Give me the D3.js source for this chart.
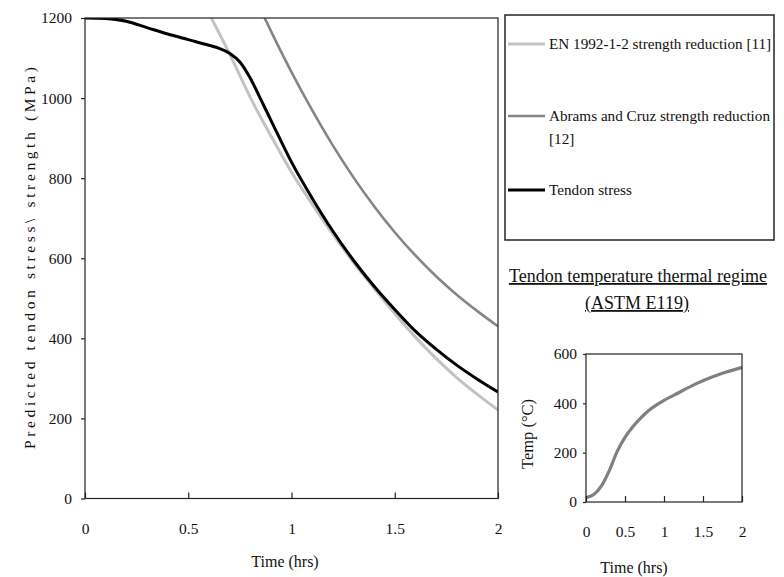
<!DOCTYPE html>
<html><head><meta charset="utf-8">
<script src="https://cdn.jsdelivr.net/npm/d3@7/dist/d3.min.js"></script>
<style>
html,body{margin:0;padding:0;background:#fff;}
text{font-family:"Liberation Serif","Times New Roman",serif;fill:#111;}
</style></head>
<body><svg id="c" width="784" height="577"></svg>
<script>
// ---- data ----
const enTime     = [0.6, 0.71, 0.81, 0.9, 1.0, 1.1, 1.2, 1.3, 1.4, 1.5, 1.6, 1.7, 1.8, 1.9, 2.0];
const enValues   = [1212, 1100, 992, 906, 815, 735, 660, 590, 525, 462, 403, 350, 302, 260, 221];
const abTime     = [0.86, 0.9, 1.0, 1.1, 1.2, 1.3, 1.4, 1.5, 1.6, 1.7, 1.8, 1.9, 2.0];
const abValues   = [1211, 1168, 1065, 970, 882, 802, 730, 665, 607, 555, 509, 468, 430];
const tsTime     = [0, 0.1, 0.2, 0.3, 0.4, 0.5, 0.6, 0.65, 0.7, 0.75, 0.8, 0.85, 0.9, 1.0, 1.1, 1.2, 1.3, 1.4, 1.5, 1.6, 1.7, 1.8, 1.9, 2.0];
const tsValues   = [1200, 1199, 1192, 1176, 1160, 1146, 1132, 1124, 1112, 1090, 1050, 998, 945, 840, 750, 668, 595, 530, 472, 418, 373, 333, 298, 266];
const tempTime   = [0, 0.1, 0.2, 0.3, 0.4, 0.5, 0.6, 0.7, 0.8, 0.9, 1.0, 1.2, 1.4, 1.6, 1.8, 2.0];
const tempValues = [18, 30, 66, 128, 205, 262, 305, 340, 370, 393, 412, 445, 478, 505, 527, 546];
const mainXTicks = [0, 0.5, 1, 1.5, 2];
const mainYTicks = [0, 200, 400, 600, 800, 1000, 1200];
const insetXTicks = [0, 0.5, 1, 1.5, 2];
const insetYTicks = [0, 200, 400, 600];
const legendLabels = [["EN 1992-1-2 strength reduction [11]"], ["Abrams and Cruz strength reduction", "[12]"], ["Tendon stress"]];

const svg = d3.select("#c");
const zip = (a,b)=>a.map((t,i)=>[t,b[i]]);
const SERIF = "'Liberation Serif','Times New Roman',serif";

// ---- main chart ----
const x = d3.scaleLinear().domain([0,2]).range([85,498]);
const y = d3.scaleLinear().domain([0,1200]).range([498.5,18]);

svg.append("clipPath").attr("id","clipMain").append("rect")
  .attr("x",85).attr("y",18).attr("width",413).attr("height",480.5);

const line = d3.line().x(d=>x(d[0])).y(d=>y(d[1])).curve(d3.curveMonotoneX);
const series = [
  {d: zip(enTime,enValues), c:"#c3c3c3", w:3},
  {d: zip(abTime,abValues), c:"#858585", w:2.6},
  {d: zip(tsTime,tsValues), c:"#000", w:3}
];
const gLines = svg.append("g").attr("clip-path","url(#clipMain)");
series.forEach(s=>{
  gLines.append("path").attr("d", line(s.d)).attr("fill","none")
    .attr("stroke", s.c).attr("stroke-width", s.w).attr("stroke-linejoin","round");
});

// frame
svg.append("rect").attr("x",85).attr("y",18).attr("width",413).attr("height",480.5)
  .attr("fill","none").attr("stroke","#222").attr("stroke-width",1.2);

const gx = svg.append("g").attr("transform","translate(0,498.5)")
  .call(d3.axisBottom(x).tickValues(mainXTicks).tickSize(-6).tickPadding(24).tickFormat(d3.format("")));
const gy = svg.append("g").attr("transform","translate(85,0)")
  .call(d3.axisLeft(y).tickValues(mainYTicks).tickSize(4).tickPadding(9).tickFormat(d3.format("d")));
[gx,gy].forEach(g=>{
  g.attr("font-family", SERIF);
  g.select(".domain").remove();
  g.selectAll("line").attr("stroke","#222").attr("stroke-width",1.2);
  g.selectAll("text").style("font-size","15.5px").attr("fill","#111");
});

svg.append("text").attr("x",285).attr("y",567).attr("text-anchor","middle")
  .style("font-size","16px").text("Time (hrs)");
svg.append("text").attr("transform","translate(35,258) rotate(-90)").attr("text-anchor","middle")
  .attr("textLength",382).attr("lengthAdjust","spacing")
  .style("font-size","15.5px").text("Predicted tendon stress\\ strength  (MPa)");

// ---- legend ----
svg.append("rect").attr("x",505).attr("y",15).attr("width",269).attr("height",225)
  .attr("fill","#fff").attr("stroke","#333").attr("stroke-width",1.6);
const legY = [44, 116, 190];
series.forEach((s,i)=>{
  svg.append("line").attr("x1",508).attr("x2",545).attr("y1",legY[i]).attr("y2",legY[i])
    .attr("stroke",s.c).attr("stroke-width",s.w);
  legendLabels[i].forEach((t,j)=>{
    svg.append("text").attr("x",549).attr("y",legY[i]+5+j*23)
      .style("font-size","15.2px").text(t);
  });
});

// ---- inset ----
svg.append("text").attr("x",638).attr("y",282).attr("text-anchor","middle")
  .style("font-size","18px").style("text-decoration","underline").text("Tendon temperature thermal regime");
svg.append("text").attr("x",637).attr("y",309).attr("text-anchor","middle")
  .style("font-size","18px").style("text-decoration","underline").text("(ASTM E119)");

const xi = d3.scaleLinear().domain([0,2]).range([586,742]);
const yi = d3.scaleLinear().domain([0,600]).range([502,354]);
const lineI = d3.line().x(d=>xi(d[0])).y(d=>yi(d[1])).curve(d3.curveMonotoneX);
svg.append("path").attr("d", lineI(zip(tempTime,tempValues))).attr("fill","none")
  .attr("stroke","#808080").attr("stroke-width",3.2);
svg.append("rect").attr("x",586).attr("y",354).attr("width",156).attr("height",148)
  .attr("fill","none").attr("stroke","#222").attr("stroke-width",1.2);
const gxi = svg.append("g").attr("transform","translate(0,502)")
  .call(d3.axisBottom(xi).tickValues(insetXTicks).tickSize(-6).tickPadding(24).tickFormat(d3.format("")));
const gyi = svg.append("g").attr("transform","translate(586,0)")
  .call(d3.axisLeft(yi).tickValues(insetYTicks).tickSize(3).tickPadding(6));
[gxi,gyi].forEach(g=>{
  g.attr("font-family", SERIF);
  g.select(".domain").remove();
  g.selectAll("line").attr("stroke","#222").attr("stroke-width",1.2);
  g.selectAll("text").style("font-size","15.5px").attr("fill","#111");
});
svg.append("text").attr("x",634).attr("y",573).attr("text-anchor","middle")
  .style("font-size","16px").text("Time (hrs)");
svg.append("text").attr("transform","translate(533,434) rotate(-90)").attr("text-anchor","middle")
  .style("font-size","16.5px").text("Temp (°C)");
</script></body></html>
